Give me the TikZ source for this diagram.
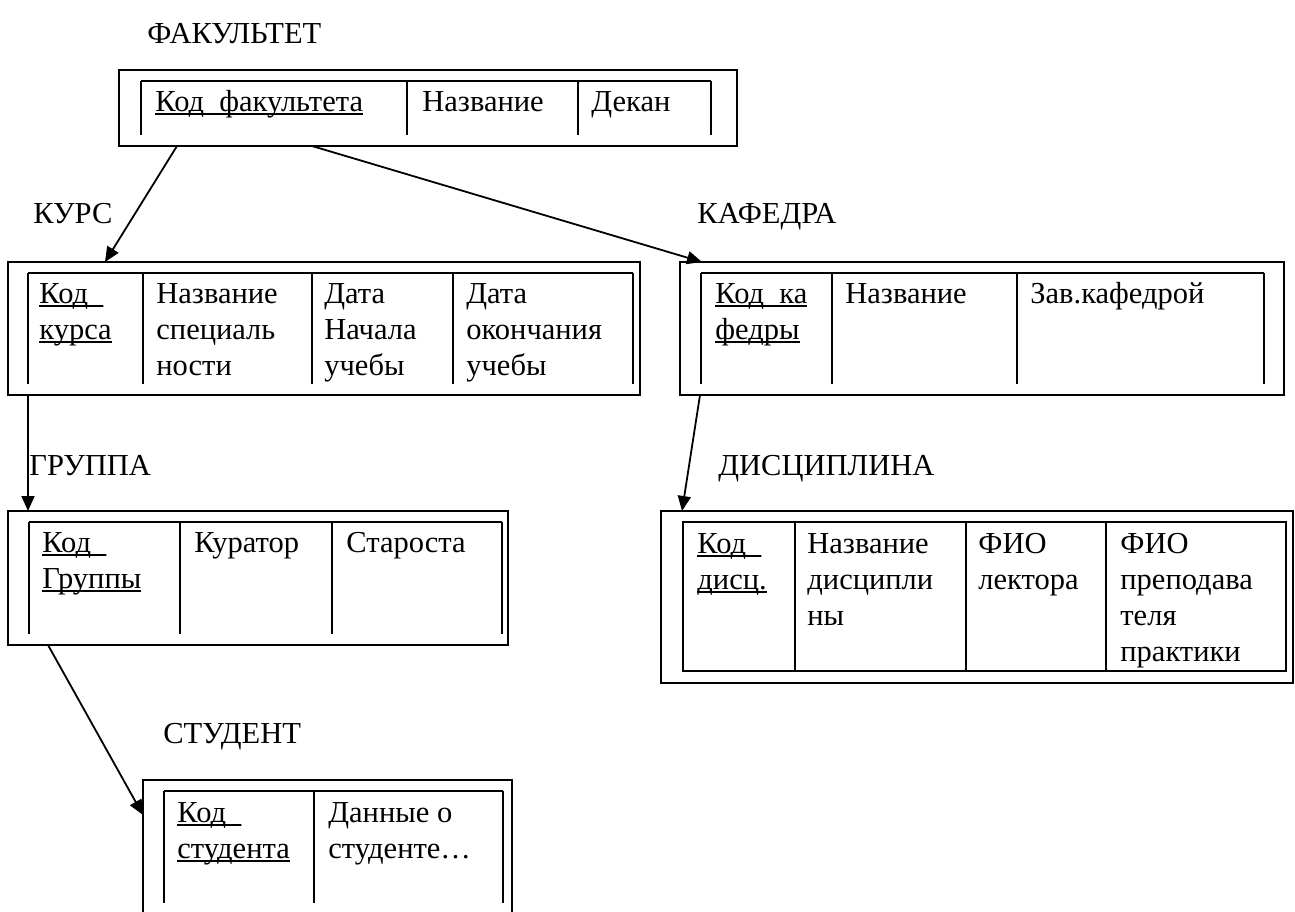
\documentclass[tikz,border=0pt]{standalone}
\usepackage{fontspec}
\setmainfont{Liberation Serif}
\usetikzlibrary{arrows.meta}

\newcommand{\keyline}[1]{\setbox0=\hbox{#1}\rlap{\rule[-2pt]{\wd0}{1pt}}\box0}
\newcommand{\celltext}[1]{\begin{tabular}[t]{@{}l@{}}#1\end{tabular}}

\begin{document}
\begin{tikzpicture}[x=0.5pt,y=-0.5pt,font=\fontsize{15.25}{18}\selectfont]
\tikzstyle{frame}=[draw, line width=1pt, rectangle, inner sep=0pt, outer sep=0pt, anchor=north west]
\tikzstyle{title}=[anchor=base west, inner sep=0pt]
\tikzstyle{cell}=[anchor=base west, inner sep=0pt]
\tikzstyle{grid}=[line width=1.3pt]
\tikzstyle{link}=[line width=0.9pt, -{Triangle[length=7.5pt,width=6.5pt]}]

\useasboundingbox (0,0) rectangle (1295,911);

% ФАКУЛЬТЕТ
\node[title] (tfac) at (147,43) {ФАКУЛЬТЕТ};
\node[frame, minimum width=309pt, minimum height=38pt] (fac) at (119,70) {};
\draw[grid] (141,81) -- (711,81);
\foreach \x in {141,407,578,711} \draw[grid] (\x,81) -- (\x,135);
\node[cell] (fac1) at (155,111) {\keyline{Код\_факультета}};
\node[cell] (fac2) at (422,111) {Название};
\node[cell] (fac3) at (591,111) {Декан};

% КУРС
\node[title] (tkurs) at (33,223) {КУРС};
\node[frame, minimum width=316pt, minimum height=66.5pt] (kurs) at (8,262) {};
\draw[grid] (28,273) -- (633,273);
\foreach \x in {28,143,312,453,633} \draw[grid] (\x,273) -- (\x,384);
\node[cell] (kurs1) at (39,303) {\celltext{\keyline{Код\_}\\\keyline{курса}}};
\node[cell] (kurs2) at (156,303) {\celltext{Название\\специаль\\ности}};
\node[cell] (kurs3) at (324,303) {\celltext{Дата\\Начала\\учебы}};
\node[cell] (kurs4) at (466,303) {\celltext{Дата\\окончания\\учебы}};

% КАФЕДРА
\node[title] (tkaf) at (697,223) {КАФЕДРА};
\node[frame, minimum width=302pt, minimum height=66.5pt] (kaf) at (680,262) {};
\draw[grid] (701,273) -- (1264,273);
\foreach \x in {701,832,1017,1264} \draw[grid] (\x,273) -- (\x,384);
\node[cell] (kaf1) at (715,303) {\celltext{\keyline{Код\_ка}\\\keyline{федры}}};
\node[cell] (kaf2) at (845,303) {Название};
\node[cell] (kaf3) at (1030,303) {Зав.кафедрой};

% ГРУППА
\node[title] (tgrp) at (29,475) {ГРУППА};
\node[frame, minimum width=250pt, minimum height=67pt] (grp) at (8,511) {};
\draw[grid] (29,522) -- (502,522);
\foreach \x in {29,180,332,502} \draw[grid] (\x,522) -- (\x,634);
\node[cell] (grp1) at (42,552) {\celltext{\keyline{Код\_}\\\keyline{Группы}}};
\node[cell] (grp2) at (194,552) {Куратор};
\node[cell] (grp3) at (346,552) {Староста};

% ДИСЦИПЛИНА
\node[title] (tdisc) at (718,475) {ДИСЦИПЛИНА};
\node[frame, minimum width=316pt, minimum height=86pt] (disc) at (661,511) {};
\draw[grid] (683,522) rectangle (1286,671);
\foreach \x in {795,966,1106} \draw[grid] (\x,522) -- (\x,671);
\node[cell] (disc1) at (697,553) {\celltext{\keyline{Код\_}\\\keyline{дисц.}}};
\node[cell] (disc2) at (807,553) {\celltext{Название\\дисципли\\ны}};
\node[cell] (disc3) at (978,553) {\celltext{ФИО\\лектора}};
\node[cell] (disc4) at (1120,553) {\celltext{ФИО\\преподава\\теля\\практики}};

% СТУДЕНТ
\node[title] (tstud) at (163,743) {СТУДЕНТ};
\node[frame, minimum width=184.5pt, minimum height=75pt] (stud) at (143,780) {};
\draw[grid] (164,791) -- (503,791);
\foreach \x in {164,314,503} \draw[grid] (\x,791) -- (\x,903);
\node[cell] (stud1) at (177,822) {\celltext{\keyline{Код\_}\\\keyline{студента}}};
\node[cell] (stud2) at (328,822) {\celltext{Данные о\\студенте…}};

% связи
\draw[link] ([xshift=29pt]fac.south west) -- ([xshift=48.5pt]kurs.north west);
\draw[link] ([xshift=96.5pt]fac.south west) -- ([xshift=11pt]kaf.north west);
\draw[link] ([xshift=10pt]kurs.south west) -- ([xshift=10pt]grp.north west);
\draw[link] ([xshift=10pt]kaf.south west) -- ([xshift=10.5pt]disc.north west);
\draw[link] ([xshift=20pt]grp.south west) -- ([yshift=-17.5pt]stud.north west);
\end{tikzpicture}
\end{document}
